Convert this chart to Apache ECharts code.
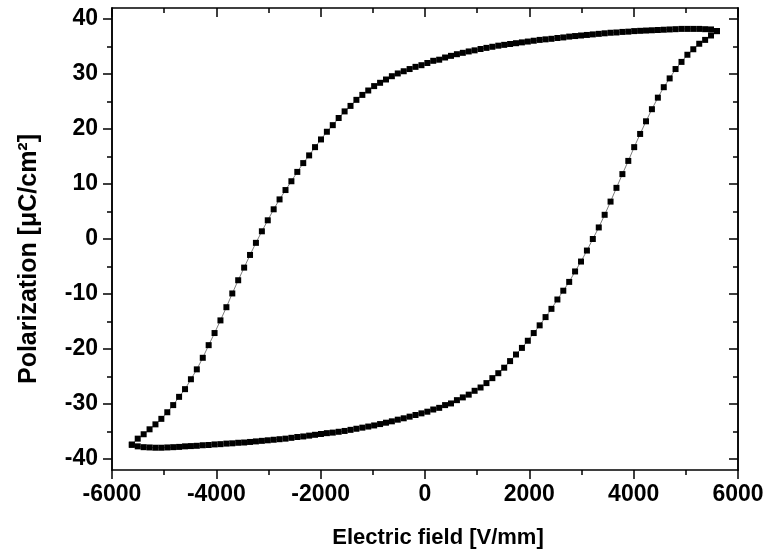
<!DOCTYPE html>
<html>
<head>
<meta charset="utf-8">
<script src="https://cdn.jsdelivr.net/npm/echarts@6/dist/echarts.min.js"></script>
<style>
  html, body { margin: 0; padding: 0; background: #fff; }
  #chart { width: 780px; height: 555px; }
</style>
</head>
<body>
<div id="chart"></div>
<script>
// Electric field sample points (V/mm), shared by both branches of the loop
const fieldValues = [-5620,-5507,-5393,-5280,-5167,-5054,-4940,-4827,-4714,-4600,
  -4487,-4374,-4260,-4147,-4034,-3921,-3807,-3694,-3581,-3467,
  -3354,-3241,-3127,-3014,-2901,-2788,-2674,-2561,-2448,-2334,
  -2221,-2108,-1994,-1881,-1768,-1655,-1541,-1428,-1315,-1201,
  -1088,-975,-861,-748,-635,-522,-408,-295,-182,-68,
  45,158,272,385,498,612,725,838,951,1065,
  1178,1291,1405,1518,1631,1744,1858,1971,2084,2198,
  2311,2424,2538,2651,2764,2877,2991,3104,3217,3331,
  3444,3557,3670,3784,3897,4010,4124,4237,4350,4464,
  4577,4690,4803,4917,5030,5143,5257,5370,5483,5597];

// Polarization (µC/cm²) on the falling-field branch, listed in order of fieldValues
const polDescending = [-37.4,-36.3,-35.5,-34.6,-33.7,-32.7,-31.5,-30.2,-28.7,-27.3,
  -25.5,-23.7,-21.6,-19.3,-17.1,-14.8,-12.4,-9.9,-7.5,-5.2,
  -2.9,-0.7,1.4,3.4,5.4,7.2,8.9,10.5,12.2,13.8,
  15.2,16.7,18.1,19.5,20.7,22.0,23.2,24.2,25.3,26.2,
  27.0,27.8,28.4,29.0,29.6,30.1,30.5,30.9,31.3,31.6,
  32.0,32.4,32.6,33.0,33.3,33.6,33.85,34.1,34.3,34.55,
  34.75,34.95,35.15,35.3,35.45,35.6,35.75,35.9,36.05,36.2,
  36.3,36.4,36.55,36.65,36.8,36.9,37.0,37.1,37.2,37.3,
  37.4,37.5,37.55,37.65,37.7,37.8,37.85,37.9,37.95,38.0,
  38.05,38.1,38.15,38.2,38.2,38.2,38.2,38.15,38.1,37.8];

// Polarization (µC/cm²) on the rising-field branch, listed in order of fieldValues
const polAscending = [-37.4,-37.7,-37.85,-37.9,-37.95,-37.95,-37.9,-37.85,-37.8,-37.7,
  -37.65,-37.6,-37.5,-37.45,-37.35,-37.3,-37.2,-37.15,-37.05,-37.0,
  -36.9,-36.8,-36.7,-36.6,-36.5,-36.4,-36.3,-36.15,-36.0,-35.9,
  -35.75,-35.6,-35.45,-35.3,-35.2,-35.05,-34.9,-34.7,-34.5,-34.3,
  -34.1,-33.9,-33.65,-33.4,-33.15,-32.85,-32.6,-32.3,-32.0,-31.7,
  -31.4,-31.0,-30.7,-30.2,-29.9,-29.3,-28.8,-28.3,-27.6,-27.0,
  -26.2,-25.3,-24.4,-23.4,-22.2,-21.0,-19.8,-18.5,-17.1,-15.7,
  -14.2,-12.7,-11.0,-9.4,-7.8,-5.9,-4.1,-2.1,0.0,2.1,
  4.4,6.8,9.3,11.8,14.2,16.7,19.1,21.4,23.6,25.7,
  27.6,29.2,30.9,32.2,33.5,34.5,35.5,36.2,37.0,37.8];

// Axis ticks
const yMajorTicks = [-40,-30,-20,-10,0,10,20,30,40];
const yMinorTicks = [-35,-25,-15,-5,5,15,25,35];
const xTickStep = 2000;

// Loop: field sweeps down from the positive peak, then back up
const loopPoints = [];
for (let i = fieldValues.length - 1; i >= 0; i--) loopPoints.push([fieldValues[i], polDescending[i]]);
for (let i = 0; i < fieldValues.length; i++) loopPoints.push([fieldValues[i], polAscending[i]]);

const FONT = "'Liberation Sans', Arial, sans-serif";
const ink = '#000';
const lineW = 1.5;
const plain = v => String(v);

function xAxisCfg(pos) {
  const bottom = pos === 'bottom';
  return {
    type: 'value', position: pos, min: -6000, max: 6000, interval: xTickStep,
    axisLine: { show: true, onZero: false, lineStyle: { color: ink, width: lineW } },
    axisTick: { show: true, inside: !bottom, length: 9, lineStyle: { color: ink, width: lineW } },
    minorTick: { show: true, splitNumber: 2, length: 5, lineStyle: { color: ink, width: lineW } },
    axisLabel: { show: bottom, formatter: plain, margin: 13, color: ink, fontSize: 23,
                 fontWeight: 'bold', fontFamily: FONT },
    splitLine: { show: false }, minorSplitLine: { show: false },
    name: bottom ? 'Electric field [V/mm]' : '',
    nameLocation: 'middle', nameGap: 57,
    nameTextStyle: { color: ink, fontSize: 22, fontWeight: 'bold', fontFamily: FONT, padding: [0, 0, 0, 26] }
  };
}

function yAxisCfg(pos, ticks, len, labels) {
  return {
    type: 'value', position: pos, min: -42, max: 42,
    axisLine: { show: true, onZero: false, lineStyle: { color: ink, width: lineW } },
    axisTick: { show: true, inside: pos === 'right', length: len, customValues: ticks,
                lineStyle: { color: ink, width: lineW } },
    axisLabel: { show: labels, customValues: ticks, formatter: plain, margin: 14, color: ink,
                 fontSize: 23, fontWeight: 'bold', fontFamily: FONT },
    splitLine: { show: false },
    name: labels ? 'Polarization [μC/cm²]' : '',
    nameLocation: 'middle', nameGap: 70,
    nameTextStyle: { color: ink, fontSize: 25, fontWeight: 'bold', fontFamily: FONT, padding: [0, 40, 0, 0] }
  };
}

const chart = echarts.init(document.getElementById('chart'), null, { renderer: 'canvas' });
chart.setOption({
  animation: false,
  backgroundColor: '#fff',
  grid: { left: 112, right: 42, top: 8, bottom: 85 },
  xAxis: [xAxisCfg('bottom'), xAxisCfg('top')],
  yAxis: [
    yAxisCfg('left', yMajorTicks, 9, true),
    yAxisCfg('left', yMinorTicks, 5, false),
    yAxisCfg('right', yMajorTicks, 9, false),
    yAxisCfg('right', yMinorTicks, 5, false)
  ],
  series: [{
    type: 'line',
    data: loopPoints,
    xAxisIndex: 0, yAxisIndex: 0,
    symbol: 'rect', symbolSize: 6,
    showSymbol: true, showAllSymbol: true,
    itemStyle: { color: ink },
    lineStyle: { color: '#444', width: 0.7 },
    silent: true
  }]
});
</script>
</body>
</html>
